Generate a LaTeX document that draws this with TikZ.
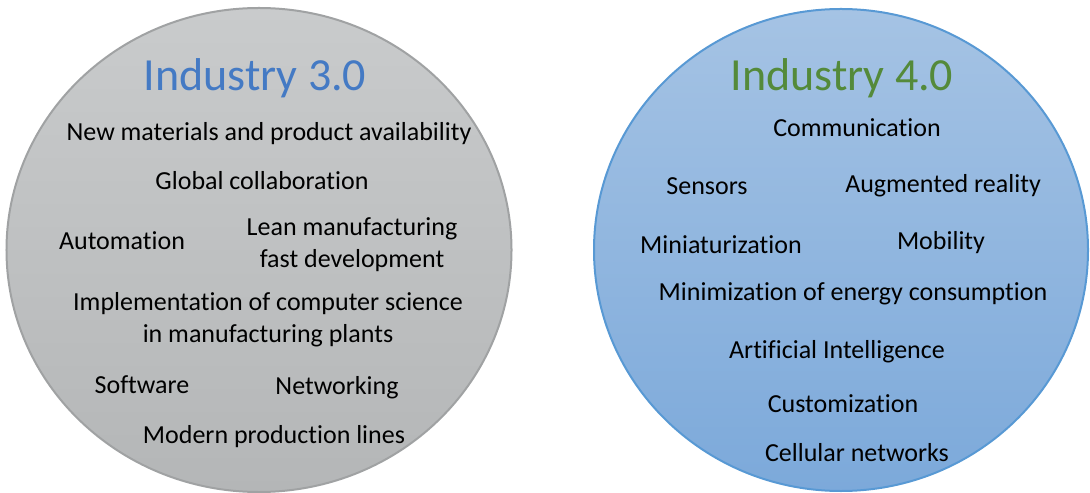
\documentclass[tikz,border=0pt]{standalone}
\usepackage{fontspec}
\setmainfont{Carlito}[Ligatures=CommonOff]
\usetikzlibrary{shapes.geometric}
\definecolor{grayTop}{RGB}{201,203,204}
\definecolor{grayBot}{RGB}{180,182,183}
\definecolor{grayEdge}{RGB}{160,162,163}
\definecolor{blueTop}{RGB}{165,195,228}
\definecolor{blueBot}{RGB}{124,169,218}
\definecolor{blueEdge}{RGB}{88,153,212}
\definecolor{titleBlue}{RGB}{68,122,196}
\definecolor{titleGreen}{RGB}{84,138,58}
\tikzset{
  circ/.style={ellipse, inner sep=0pt, line width=2bp},
  title/.style={anchor=base, inner sep=0pt, font=\fontsize{46bp}{52bp}\selectfont},
  item/.style={anchor=base, inner sep=0pt, font=\fontsize{26bp}{32bp}\selectfont},
  item2/.style={anchor=center, inner sep=0pt, align=center, font=\fontsize{26bp}{32bp}\selectfont}
}
\begin{document}
\begin{tikzpicture}[x=1bp,y=-1bp]
\useasboundingbox (0,0) rectangle (1090,493);
\node[circ, minimum width=505bp, minimum height=484bp, top color=grayTop, bottom color=grayBot, draw=grayEdge] (c3) at (259,250) {};
\node[circ, minimum width=494bp, minimum height=482bp, top color=blueTop, bottom color=blueBot, draw=blueEdge] (c4) at (841,250) {};

\node[title, text=titleBlue] (t3) at (255,91) {Industry 3.0};
\node[item] (a1) at (269,141) {New materials and product availability};
\node[item] (a2) at (262,190) {Global collaboration};
\node[item] (a3) at (122,250) {Automation};
\node[item2] (a4) at (352,245) {Lean manufacturing\\fast development};
\node[item2] (a5) at (268,320) {Implementation of computer science\\in manufacturing plants};
\node[item] (a6) at (142,393) {Software};
\node[item] (a7) at (337,394) {Networking};
\node[item] (a8) at (274,443) {Modern production lines};

\node[title, text=titleGreen] (t4) at (842,91) {Industry 4.0};
\node[item] (b1) at (857,137) {Communication};
\node[item] (b2) at (707,195) {Sensors};
\node[item] (b3) at (943,193) {Augmented reality};
\node[item] (b4) at (721,254) {Miniaturization};
\node[item] (b5) at (941,250) {Mobility};
\node[item] (b6) at (853,301) {Minimization of energy consumption};
\node[item] (b7) at (837,359) {Artificial Intelligence};
\node[item] (b8) at (843,412) {Customization};
\node[item] (b9) at (857,461) {Cellular networks};
\end{tikzpicture}
\end{document}
